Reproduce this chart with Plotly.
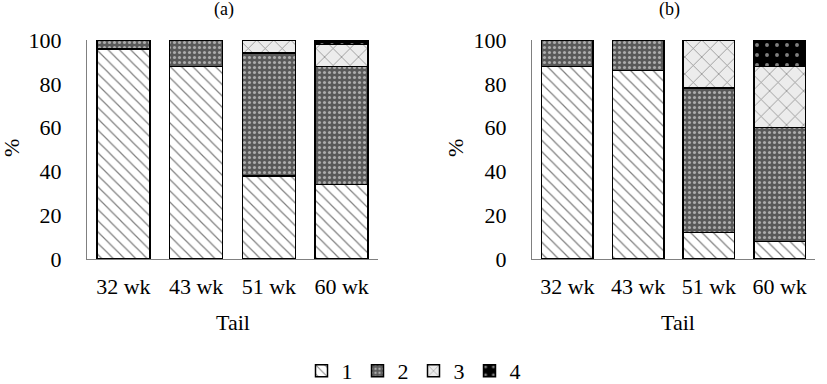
import plotly.graph_objects as go

categories = ["32 wk", "43 wk", "51 wk", "60 wk"]
series_names = ["1", "2", "3", "4"]
# panel (a)
a_s1 = [96, 88, 38, 34]
a_s2 = [4, 12, 56, 54]
a_s3 = [0, 0, 6, 10]
a_s4 = [0, 0, 0, 2]
# panel (b)
b_s1 = [88, 86, 12, 8]
b_s2 = [12, 14, 66, 52]
b_s3 = [0, 0, 22, 28]
b_s4 = [0, 0, 0, 12]
y_ticks = [0, 20, 40, 60, 80, 100]

patterns = [
    dict(shape="\\", fgcolor="black", bgcolor="white", size=8, solidity=0.15),
    dict(shape=".", fgcolor="white", bgcolor="#595959", size=5, solidity=0.3),
    dict(shape="x", fgcolor="#222222", bgcolor="#ececec", size=12, solidity=0.12),
    dict(shape=".", fgcolor="white", bgcolor="black", size=10, solidity=0.12),
]

font = "Liberation Serif, Times New Roman, serif"
fig = go.Figure()
panels = [([a_s1, a_s2, a_s3, a_s4], "x", "y"), ([b_s1, b_s2, b_s3, b_s4], "x2", "y2")]
for pi, (vals, xa, ya) in enumerate(panels):
    for si, v in enumerate(vals):
        fig.add_trace(go.Bar(
            x=categories, y=v, name=series_names[si], xaxis=xa, yaxis=ya,
            marker=dict(pattern=patterns[si], color=patterns[si]["bgcolor"],
                        line=dict(color="black", width=1.5)),
            showlegend=(pi == 0), legendgroup=series_names[si],
        ))

axis_common = dict(showline=True, linecolor="#808080", linewidth=1, showgrid=False,
                   zeroline=False, ticks="", tickfont=dict(family=font, size=22, color="black"))
ydom = [1 - 259/384, 1 - 40/384]
fig.update_layout(
    width=827, height=384, barmode="stack", bargap=0.27,
    margin=dict(l=0, r=0, t=0, b=0, autoexpand=False),
    plot_bgcolor="white", paper_bgcolor="white",
    font=dict(family=font, color="black"),
    xaxis=dict(domain=[87/827, 378/827], anchor="y", ticklabelstandoff=8, automargin=False, **axis_common),
    yaxis=dict(domain=ydom, anchor="x", range=[0, 100], tickvals=y_ticks,
               ticklabelstandoff=20, automargin=False, **axis_common),
    xaxis2=dict(domain=[532/827, 815/827], anchor="y2", ticklabelstandoff=8, automargin=False, **axis_common),
    yaxis2=dict(domain=ydom, anchor="x2", range=[0, 100], tickvals=y_ticks,
                ticklabelstandoff=20, automargin=False, **axis_common),
    legend=dict(orientation="h", x=0.5, xanchor="center", y=13/384, yanchor="middle",
                font=dict(family=font, size=22, color="black"), itemwidth=30,
                tracegroupgap=0, traceorder="normal"),
)
ann = [
    ("(a)", 224, 10, 18, 0), ("(b)", 669, 10, 18, 0),
    ("Tail", 233, 322, 22, 0), ("Tail", 678, 322, 22, 0),
    ("%", 11, 148, 22, -90), ("%", 455, 148, 22, -90),
]
for t, x, y, s, ang in ann:
    fig.add_annotation(text=t, x=x/827, y=1-y/384, xref="paper", yref="paper",
                       showarrow=False, textangle=ang,
                       font=dict(family=font, size=s, color="black"),
                       xanchor="center", yanchor="middle")
fig.write_html("out.html", config={"displayModeBar": False},
               post_script="document.body.style.margin='0';document.body.style.overflow='hidden';")
